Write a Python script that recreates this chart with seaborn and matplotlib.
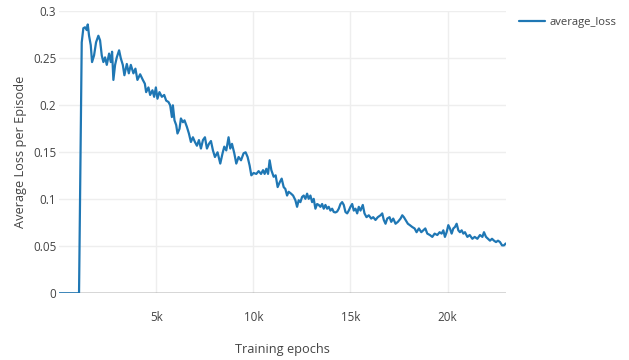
import matplotlib
matplotlib.use("Agg")
import matplotlib.pyplot as plt
import seaborn as sns
import pandas as pd

# Training epochs
epochs = [0, 1000, 1031, 1170, 1253, 1340, 1428, 1480, 1547, 1634, 1701, 1804, 1907, 2026, 2114,
          2201, 2284, 2371, 2459, 2578, 2665, 2732, 2799, 2887, 2974, 3093, 3181, 3284,
          3366, 3490, 3593, 3696, 3830, 3933, 4036, 4176, 4315, 4418,
          4485, 4603, 4691, 4810, 4897, 4985, 5067, 5170, 5294, 5413, 5516, 5634, 5722,
          5810, 5861, 5944, 6031, 6098, 6202, 6274, 6377, 6459, 6583, 6686, 6789, 6892,
          6995, 7098, 7202, 7305, 7408, 7511, 7614, 7717, 7820, 7923, 8026,
          8160, 8300, 8418, 8506, 8609, 8727, 8815, 8903, 9021, 9124, 9243, 9367, 9501,
          9604, 9707, 9810, 9898, 10016, 10155, 10274, 10398, 10501, 10583, 10671, 10759,
          10841, 10929, 11047, 11150, 11253, 11357, 11460, 11563,
          11650, 11738, 11820, 11944, 12047, 12166, 12253, 12336, 12424, 12511, 12594,
          12681, 12769, 12851, 12939, 13027, 13109, 13197, 13284, 13367, 13455, 13542,
          13625, 13712, 13800, 13882, 13970, 14058, 14140, 14228, 14315, 14398, 14486,
          14573, 14656, 14743, 14831, 14913, 15001, 15089, 15171,
          15259, 15346, 15429, 15517, 15635, 15723, 15826, 15944, 16068, 16171, 16289,
          16408, 16548, 16635, 16717, 16805, 16893, 17012, 17099, 17202, 17321, 17440,
          17579, 17667, 17749, 17837, 17955, 18058, 18182, 18300, 18403, 18522, 18646, 18749,
          18852, 18955, 19089, 19213, 19332, 19470, 19589, 19692, 19780, 19862, 19950,
          20037, 20120, 20208, 20295, 20378, 20465, 20553, 20635, 20723, 20811, 20893,
          21017, 21136, 21274, 21393, 21532, 21667, 21790, 21872, 21976, 22079, 22182,
          22285, 22388, 22491, 22594, 22697, 22801, 22904, 22990]

# Average loss per episode
average_loss = [0.0, 0.0, 0.0, 0.267, 0.282, 0.283, 0.280, 0.286, 0.274, 0.264, 0.246, 0.253, 0.267, 0.274, 0.269,
                0.253, 0.246, 0.251, 0.243, 0.255, 0.246, 0.257, 0.227, 0.243, 0.251, 0.2585, 0.250, 0.243,
                0.232, 0.244, 0.234, 0.243, 0.234, 0.239, 0.227, 0.233, 0.227, 0.223,
                0.214, 0.219, 0.211, 0.216, 0.209, 0.219, 0.207, 0.214, 0.209, 0.211, 0.205, 0.2035, 0.200,
                0.1875, 0.200, 0.184, 0.179, 0.170, 0.175, 0.186, 0.182, 0.184, 0.177, 0.170, 0.161, 0.166,
                0.161, 0.157, 0.163, 0.154, 0.163, 0.166, 0.154, 0.159, 0.162, 0.152, 0.145,
                0.150, 0.138, 0.149, 0.156, 0.152, 0.166, 0.154, 0.159, 0.149, 0.138, 0.145, 0.1415, 0.149,
                0.150, 0.145, 0.136, 0.1255, 0.128, 0.127, 0.130, 0.127, 0.131, 0.127, 0.1325, 0.127,
                0.1415, 0.131, 0.124, 0.1255, 0.113, 0.118, 0.122, 0.113,
                0.111, 0.104, 0.108, 0.106, 0.104, 0.099, 0.092, 0.099, 0.097, 0.1025, 0.104,
                0.1005, 0.106, 0.1005, 0.104, 0.097, 0.1005, 0.090, 0.095, 0.094, 0.092, 0.095,
                0.090, 0.094, 0.090, 0.092, 0.088, 0.090, 0.0865, 0.086, 0.087, 0.090, 0.095,
                0.097, 0.094, 0.0865, 0.085, 0.088, 0.092, 0.095, 0.088,
                0.090, 0.085, 0.092, 0.088, 0.094, 0.085, 0.081, 0.083, 0.0795, 0.081, 0.078,
                0.081, 0.083, 0.085, 0.078, 0.074, 0.0795, 0.081, 0.076, 0.0795, 0.074, 0.076,
                0.0795, 0.083, 0.081, 0.078, 0.074, 0.0725, 0.0705, 0.069, 0.065, 0.069, 0.065, 0.067,
                0.069, 0.0635, 0.062, 0.060, 0.0635, 0.062, 0.065, 0.0635, 0.067, 0.060, 0.065,
                0.0725, 0.069, 0.0635, 0.069, 0.0705, 0.074, 0.067, 0.065, 0.067, 0.0635, 0.065,
                0.060, 0.062, 0.058, 0.060, 0.058, 0.062, 0.060, 0.065, 0.060, 0.058, 0.056,
                0.058, 0.056, 0.0545, 0.056, 0.0545, 0.051, 0.051, 0.053]

y_ticks = [0, 0.05, 0.1, 0.15, 0.2, 0.25, 0.3]
y_tick_labels = ["0", "0.05", "0.1", "0.15", "0.2", "0.25", "0.3"]
x_ticks = [5000, 10000, 15000, 20000]
x_tick_labels = ["5k", "10k", "15k", "20k"]

df = pd.DataFrame({"Training epochs": epochs, "average_loss": average_loss})

sns.set_theme(style="white")
plt.rcParams["font.family"] = ["Open Sans", "DejaVu Sans"]

fig = plt.figure(figsize=(6.29, 3.60), dpi=100)
ax = fig.add_axes([59 / 629, 1 - 293.3 / 360, (505.7 - 59) / 629, (293.3 - 11.3) / 360])

sns.lineplot(data=df, x="Training epochs", y="average_loss", ax=ax,
             color="#1f77b4", linewidth=1.6, label="average_loss")

ax.set_xlim(0, 22990)
ax.set_ylim(0, 0.3)
ax.set_xticks(x_ticks)
ax.set_xticklabels(x_tick_labels)
ax.set_yticks(y_ticks)
ax.set_yticklabels(y_tick_labels)

for s in ax.spines.values():
    s.set_visible(False)
ax.grid(True, color="#eeeeee", linewidth=1)
ax.set_axisbelow(True)
ax.axhline(0, color="#444444", linewidth=1, zorder=1.5)

ax.tick_params(axis="both", length=0, labelsize=8.4, labelcolor="#444444")
ax.tick_params(axis="x", pad=13)
ax.tick_params(axis="y", pad=2)

ax.set_xlabel("Training epochs", fontsize=9.2, color="#444444", va="center")
ax.xaxis.set_label_coords(0.5, -0.201)
ax.set_ylabel("Average Loss per Episode", fontsize=9.2, color="#444444", va="center")
ax.yaxis.set_label_coords(-0.087, 0.5)

leg = ax.legend(loc="center left", bbox_to_anchor=(519 / 629, 1 - 22 / 360),
                bbox_transform=fig.transFigure, frameon=False, fontsize=8.1,
                handlelength=2.3, handletextpad=0.45, borderpad=0, borderaxespad=0)
for t in leg.get_texts():
    t.set_color("#444444")
for h in leg.get_lines():
    h.set_linewidth(1.6)

fig.savefig("out.png", dpi=100)
